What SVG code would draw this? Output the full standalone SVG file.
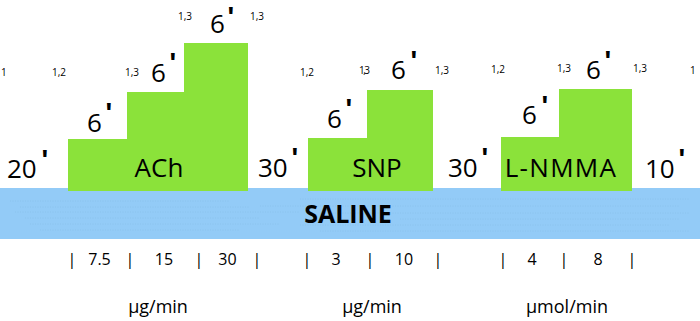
<svg xmlns="http://www.w3.org/2000/svg" width="700" height="321" viewBox="0 0 700 321">
<style>
text{font-family:"Open Sans","Liberation Sans",sans-serif;fill:#000}
.big{font-size:26px}
.pr{font-family:"Liberation Sans",Arial,sans-serif;font-size:28px;font-weight:bold}
.sup{font-size:10px}
.sc{font-size:16px;text-anchor:middle}
.un{font-size:18px;text-anchor:middle}
.blk{fill:#8be23a}
.lbl{font-size:26px;text-anchor:middle}
.dot{stroke:#7fb6de;stroke-opacity:0.45;stroke-width:0.8;stroke-dasharray:1 1.5;fill:none}
</style>
<rect width="700" height="321" fill="#fff"/>
<g id="saline">
<rect x="0" y="188" width="700" height="51" fill="#93cbf7"/>
<path class="dot" d="M10,201 H230 M300,199 H690 M20,207 H250 M260,206 H680 M15,212 H300 M320,213 H690 M25,218 H260 M400,219 H680 M30,224 H280 M300,225 H670 M40,230 H240 M320,231 H690"/>
<text x="348" y="223" style="font-size:25px;font-weight:bold;text-anchor:middle">SALINE</text>
</g>
<g id="ach">
<path class="blk" d="M68,191 V139 H127 V92 H184 V43 H248 V191 Z"/>
<text class="lbl" x="159" y="177">ACh</text>
</g>
<g id="snp">
<path class="blk" d="M308,191 V138 H367 V90 H433 V191 Z"/>
<text class="lbl" x="377" y="177">SNP</text>
</g>
<g id="lnmma">
<path class="blk" d="M501,191 V137 H559 V89 H632 V191 Z"/>
<text class="lbl" x="561" y="177" letter-spacing="1.3">L-NMMA</text>
</g>
<g id="durations">
<text class="big" x="7" y="178">20</text><text class="pr" x="41.5" y="169">'</text>
<text class="big" x="87" y="132">6</text><text class="pr" x="105.5" y="122">'</text>
<text class="big" x="151" y="82">6</text><text class="pr" x="169.5" y="72">'</text>
<text class="big" x="210" y="33">6</text><text class="pr" x="227.5" y="26">'</text>
<text class="big" x="258" y="177">30</text><text class="pr" x="291.5" y="167">'</text>
<text class="big" x="327" y="128">6</text><text class="pr" x="345.5" y="118">'</text>
<text class="big" x="391" y="79">6</text><text class="pr" x="410.5" y="70">'</text>
<text class="big" x="448" y="177">30</text><text class="pr" x="481.5" y="167">'</text>
<text class="big" x="522" y="124">6</text><text class="pr" x="541.5" y="115">'</text>
<text class="big" x="586" y="79">6</text><text class="pr" x="604.5" y="70">'</text>
<text class="big" x="645" y="178">10</text><text class="pr" x="678.5" y="168">'</text>
</g>
<g id="refs">
<text class="sup" x="1" y="76">1</text>
<text class="sup" x="52" y="76">1,2</text>
<text class="sup" x="125" y="76">1,3</text>
<text class="sup" x="178" y="20">1,3</text>
<text class="sup" x="250" y="20">1,3</text>
<text class="sup" x="300" y="76">1,2</text>
<text class="sup" x="359" y="74" letter-spacing="-1.5">1,3</text>
<text class="sup" x="435" y="74">1,3</text>
<text class="sup" x="491" y="73">1,2</text>
<text class="sup" x="557" y="72">1,3</text>
<text class="sup" x="633" y="72">1,3</text>
<text class="sup" x="690" y="74">1</text>
</g>
<g id="scale">
<text class="sc" x="72" y="265">|</text>
<text class="sc" x="99.5" y="265">7.5</text>
<text class="sc" x="130" y="265">|</text>
<text class="sc" x="164" y="265">15</text>
<text class="sc" x="199" y="265">|</text>
<text class="sc" x="227.5" y="265">30</text>
<text class="sc" x="257" y="265">|</text>
<text class="sc" x="307" y="265">|</text>
<text class="sc" x="336" y="265">3</text>
<text class="sc" x="370" y="265">|</text>
<text class="sc" x="404" y="265">10</text>
<text class="sc" x="438" y="265">|</text>
<text class="sc" x="503" y="265">|</text>
<text class="sc" x="532" y="265">4</text>
<text class="sc" x="564" y="265">|</text>
<text class="sc" x="598" y="265">8</text>
<text class="sc" x="632" y="265">|</text>
</g>
<g id="units">
<text class="un" x="158" y="313">µg/min</text>
<text class="un" x="372" y="313">µg/min</text>
<text class="un" x="567" y="313">µmol/min</text>
</g>
</svg>
